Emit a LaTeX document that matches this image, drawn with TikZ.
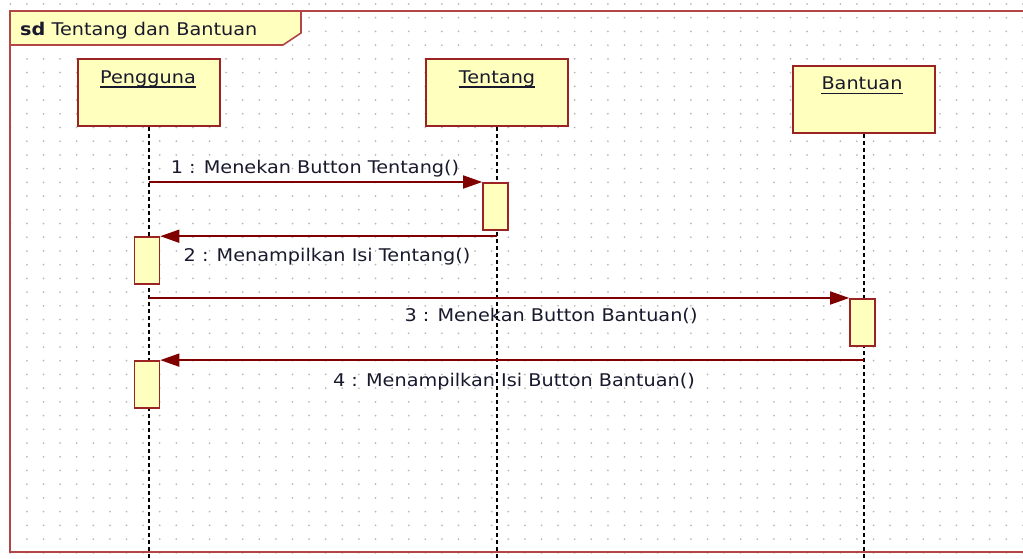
\documentclass[tikz,border=0pt]{standalone}
\usepackage{fontspec}
\setmainfont[FakeStretch=1.1]{DejaVu Sans}
\usetikzlibrary{arrows.meta}

\definecolor{bingkai}{RGB}{178,70,70}
\definecolor{garis}{RGB}{155,35,35}
\definecolor{kuning}{RGB}{255,255,190}
\definecolor{panah}{RGB}{128,0,0}
\definecolor{titik}{RGB}{185,185,185}
\definecolor{teks}{RGB}{25,25,45}

\begin{document}
\begin{tikzpicture}[x=1pt,y=-1pt,
  every node/.style={font=\fontsize{17.5}{20}\selectfont, text=teks, inner sep=0pt},
  objek/.style={draw=garis, fill=kuning, line width=2pt, minimum width=142pt, minimum height=67pt},
  aktif/.style={draw=garis, fill=kuning, line width=1.6pt, minimum width=25pt, minimum height=47pt},
  hidup/.style={black, line width=1.5pt, dash pattern=on 4pt off 3pt},
  pesan/.style={draw=panah, line width=1.6pt, -{Triangle[length=19pt,width=13pt]}}]
\useasboundingbox (0,0) rectangle (1023,559);

% titik grid latar
\foreach \i in {0,...,61}
  \foreach \j in {0,...,40}
    \fill[titik] ({10.3+16.6*\i},{4+13.72*\j}) circle (1);

% bingkai sd
\draw[bingkai, line width=2.2pt] (1030,11) -- (10,11) -- (10,552) -- (1030,552);
\draw[bingkai, line width=1.6pt, fill=kuning] (10,11) -- (301,11) -- (301,33) -- (283,45) -- (10,45) -- cycle;
\node[anchor=base west] (judul) at (20,36) {\textbf{sd} Tentang dan Bantuan};

% objek
\node[objek] (pengguna) at (149,92.5) {};
\node[objek] (tentang) at (497,92.5) {};
\node[objek] (bantuan) at (864,99.5) {};
\node[anchor=base] (namaPengguna) at (148,83.3) {Pengguna};
\node[anchor=base] (namaTentang) at (497,83.3) {Tentang};
\node[anchor=base] (namaBantuan) at (862,90) {Bantuan};
\foreach \n in {namaPengguna,namaTentang,namaBantuan}
  \draw[teks, line width=1.3pt] ([yshift=-3.8pt]\n.base west) -- ([yshift=-3.8pt]\n.base east);

% garis hidup
\coordinate (bawah) at (0,565);
\draw[hidup] (pengguna.south) -- (pengguna.south |- bawah);
\draw[hidup] (tentang.south) -- (tentang.south |- bawah);
\draw[hidup] (bantuan.south) -- (bantuan.south |- bawah);

% aktivasi
\node[aktif] (aktTentang) at (495.5,206.3) {};
\node[aktif] (aktPengguna1) at (147,260.5) {};
\node[aktif] (aktBantuan) at (862.5,322.3) {};
\node[aktif] (aktPengguna2) at (147,384.4) {};

% pesan
\draw[pesan] (pengguna |- aktTentang.north) -- (aktTentang.north west);
\draw[pesan] (tentang |- aktPengguna1.north) -- (aktPengguna1.north east);
\draw[pesan] (pengguna |- aktBantuan.north) -- (aktBantuan.north west);
\draw[pesan] (bantuan |- aktPengguna2.north) -- (aktPengguna2.north east);

\node[anchor=base] (pesan1) at (315,174) {1 : Menekan Button Tentang()};
\node[anchor=base] (pesan2) at (327,261.7) {2 : Menampilkan Isi Tentang()};
\node[anchor=base] (pesan3) at (551,321.5) {3 : Menekan Button Bantuan()};
\node[anchor=base] (pesan4) at (514,386) {4 : Menampilkan Isi Button Bantuan()};
\end{tikzpicture}
\end{document}
